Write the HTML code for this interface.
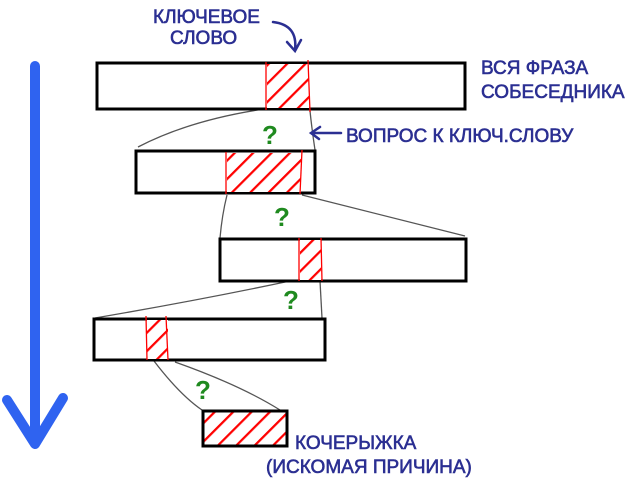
<!DOCTYPE html>
<html><head><meta charset="utf-8"><style>
html,body{margin:0;padding:0;background:#fff;width:631px;height:482px;overflow:hidden}
svg{display:block}
.t{font-family:"Liberation Sans",sans-serif;fill:#2b2f92;stroke:#2b2f92;stroke-width:0.6;font-size:19px}
.q{font-family:"Liberation Sans",sans-serif;fill:#1f8a1f;font-size:26px;font-weight:bold}
</style></head><body>
<svg width="631" height="482" viewBox="0 0 631 482" xmlns="http://www.w3.org/2000/svg">
<defs>
<pattern id="h" patternUnits="userSpaceOnUse" width="13" height="13" patternTransform="rotate(45)">
<rect width="13" height="13" fill="#fff"/><line x1="0" y1="0" x2="0" y2="13" stroke="#f00" stroke-width="4.5"/>
</pattern>
</defs>
<path d="M35 66 L35 442" stroke="#2f63f0" stroke-width="10" stroke-linecap="round" fill="none"/>
<path d="M7 400 L35 444 L63 398" stroke="#2f63f0" stroke-width="10" stroke-linecap="round" stroke-linejoin="round" fill="none"/>
<g stroke="#555" stroke-width="1.3" fill="none">
<path d="M264 109 Q190 120 138 147"/><path d="M310 111 Q312 130 315 150"/>
<path d="M227 195 Q222 215 220 238"/><path d="M302 195 L465 236"/>
<path d="M290 281 Q200 300 95 318"/><path d="M320 281 L322 318"/>
<path d="M154 361 Q180 395 202 410"/><path d="M175 362 Q240 385 280 410"/>
</g>
<g stroke="#000" stroke-width="3">
<rect x="97" y="63" width="368" height="46" fill="#fff"/>
<rect x="136" y="151" width="179" height="42" fill="#fff"/>
<rect x="220" y="239" width="246" height="42" fill="#fff"/>
<rect x="94" y="319" width="231" height="41" fill="#fff"/>
<rect x="203" y="411" width="84" height="35" fill="url(#h)"/>
</g>
<rect x="267" y="64" width="42" height="44" fill="url(#h)"/>
<rect x="227" y="153" width="74" height="39" fill="url(#h)"/>
<rect x="300" y="240" width="21" height="40" fill="url(#h)"/>
<rect x="147" y="320" width="21" height="39" fill="url(#h)"/>
<g stroke="#f00" stroke-width="1.3">
<line x1="266" y1="62" x2="266" y2="110"/><line x1="308" y1="60" x2="310" y2="112"/>
<line x1="226" y1="152" x2="226" y2="194"/><line x1="302" y1="150" x2="300" y2="194"/>
<line x1="299" y1="238" x2="299" y2="281"/><line x1="321" y1="238" x2="322" y2="281"/>
<line x1="146" y1="316" x2="147" y2="360"/><line x1="166" y1="316" x2="168" y2="360"/>
</g>
<text class="q" x="262" y="144">?</text>
<text class="q" x="274" y="226">?</text>
<text class="q" x="283" y="309">?</text>
<text class="q" x="195" y="399">?</text>
<text class="t" x="153" y="23">КЛЮЧЕВОЕ</text>
<text class="t" x="170" y="44">СЛОВО</text>
<path d="M273 22 Q298 25 295 50 M287 42 L295 51 L301 40" stroke="#2b2f92" stroke-width="2.5" fill="none" stroke-linecap="round"/>
<text class="t" x="481" y="74">ВСЯ ФРАЗА</text>
<text class="t" x="481" y="98">СОБЕСЕДНИКА</text>
<path d="M341 133 L312 133 M320 127 L311 133 L319 139" stroke="#2b2f92" stroke-width="2.5" fill="none" stroke-linecap="round"/>
<text class="t" x="346" y="142">ВОПРОС К КЛЮЧ.СЛОВУ</text>
<text class="t" x="295" y="449">КОЧЕРЫЖКА</text>
<text class="t" x="266" y="473">(ИСКОМАЯ ПРИЧИНА)</text>
</svg>
</body></html>
